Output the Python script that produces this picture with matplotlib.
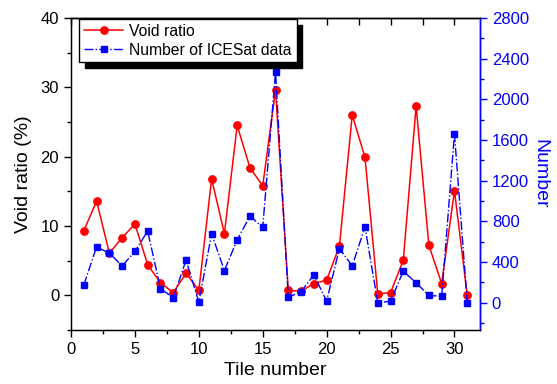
import numpy as np
import matplotlib
matplotlib.use('Agg')
import matplotlib.pyplot as plt
from matplotlib.ticker import MultipleLocator, NullFormatter

# data
tile = np.arange(1, 32)
void_ratio = [9.3, 13.6, 6.1, 8.3, 10.3, 4.4, 1.8, 0.4, 3.2, 0.7,
              16.8, 8.9, 24.5, 18.4, 15.8, 29.6, 0.7, 0.6, 1.7, 2.2,
              7.1, 26.0, 19.9, 0.2, 0.4, 5.1, 27.3, 7.2, 1.7, 15.1, 0.0]
n_icesat = [173, 548, 486, 361, 503, 703, 137, 48, 417, 5,
            677, 315, 617, 851, 740, 2267, 51, 108, 272, 15,
            532, 361, 743, 0, 12, 311, 193, 71, 61, 1661, 0]

plt.rcParams['font.family'] = ['Liberation Sans', 'DejaVu Sans']
plt.rcParams['font.size'] = 11

fig = plt.figure(figsize=(5.57, 3.84), dpi=100)
ax = fig.add_axes([0.1275, 0.1406, 0.7343, 0.8125])
ax2 = ax.twinx()

l1, = ax.plot(tile, void_ratio, color='#ff0000', marker='o', ms=5.3,
              lw=1.1, label='Void ratio')
l2, = ax2.plot(tile, n_icesat, color='#0000ff', marker='s', ms=4.4,
               lw=1.0, ls='-.', label='Number of ICESat data')

ax.set_xlim(0, 32)
ax.set_ylim(-5, 40)
ax2.set_ylim(-270, 2800)

ax.xaxis.set_major_locator(MultipleLocator(5))
ax.xaxis.set_minor_locator(MultipleLocator(2.5))
ax.yaxis.set_major_locator(MultipleLocator(10))
ax.yaxis.set_minor_locator(MultipleLocator(5))
ax2.yaxis.set_major_locator(MultipleLocator(400))
ax2.yaxis.set_minor_locator(MultipleLocator(200))

ax.tick_params(axis='both', which='both', direction='out', top=False,
               right=False, labelsize=12)
ax.tick_params(axis='both', which='major', length=5, width=1)
ax.tick_params(axis='both', which='minor', length=3, width=1)
ax2.tick_params(axis='y', which='major', direction='out', length=5, width=1,
                colors='#0000ff', labelsize=12)
ax2.tick_params(axis='y', which='minor', direction='out', length=3, width=1,
                colors='#0000ff')

# top axis: inward ticks every 2.5, no labels
top = ax.secondary_xaxis('top')
top.xaxis.set_major_locator(MultipleLocator(2.5))
top.xaxis.set_major_formatter(NullFormatter())
top.tick_params(direction='in', length=5, width=1)
top.spines['top'].set_linewidth(1.0)

for s in ax.spines.values():
    s.set_linewidth(1.0)
ax2.spines['right'].set_color('#0000ff')
ax2.spines['right'].set_linewidth(1.0)

ax.set_xlabel('Tile number', fontsize=14, labelpad=4)
ax.set_ylabel('Void ratio (%)', fontsize=14, labelpad=6)
ax2.set_ylabel('Number', fontsize=14, color='#0000ff', rotation=270, labelpad=14)

leg = ax2.legend([l1, l2], [l1.get_label(), l2.get_label()],
                 loc='upper left', bbox_to_anchor=(0.02, 0.997),
                 borderaxespad=0, fancybox=False, framealpha=1,
                 edgecolor='black', fontsize=11.3, handlelength=2.5,
                 labelspacing=0.25, borderpad=0.3, handletextpad=0.4,
                 shadow={'color': 'black', 'alpha': 1, 'ox': 4, 'oy': -4})
leg.get_frame().set_linewidth(1.0)

plt.savefig('out.png', dpi=100)
